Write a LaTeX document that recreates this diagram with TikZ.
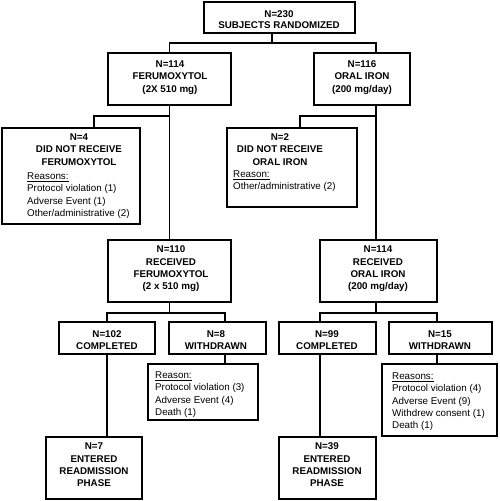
\documentclass[tikz,border=0pt]{standalone}
\usepackage{fontspec}
\setmainfont{Liberation Sans}
\tikzset{
  bx/.style={draw, line width=1.2pt, inner sep=0pt, outer sep=0pt, rectangle},
  hd/.style={font=\fontsize{9.8}{12.3}\selectfont\bfseries, align=center, inner sep=0pt},
  rs/.style={font=\fontsize{9.8}{12.3}\selectfont, align=left, inner sep=0pt, anchor=north west},
  ln/.style={line width=1.2pt},
}
\newcommand{\mkbox}[5]{\node[bx, minimum width={(#4)-(#2)}, minimum height={(#5)-(#3)}] (#1) at ({((#2)+(#4))/2},{((#3)+(#5))/2}) {};}
\begin{document}
\begin{tikzpicture}[x=1pt,y=-1pt]
\useasboundingbox (0,0) rectangle (500,501);
% boxes
\mkbox{top}{204}{2}{355}{33}
\mkbox{fer}{108}{53}{231}{105}
\mkbox{oral}{314}{53}{410}{105}
\mkbox{dnrf}{2}{128}{140}{224}
\mkbox{dnro}{227}{128}{357}{207}
\mkbox{recf}{108}{240}{231}{302}
\mkbox{reco}{320}{240}{437}{302}
\mkbox{compL}{59}{322}{155}{354}
\mkbox{wdL}{169}{322}{266}{354}
\mkbox{compR}{279}{322}{376}{354}
\mkbox{wdR}{389}{322}{492}{354}
\mkbox{rsL}{148}{364}{258}{420}
\mkbox{rsR}{382}{364}{497}{436}
\mkbox{readL}{46}{437}{142}{499}
\mkbox{readR}{279}{437}{376}{499}
% texts
\node[hd, font=\fontsize{9.8}{11}\selectfont\bfseries] (ttop) at (279,19.5) {N=230\\SUBJECTS RANDOMIZED};
\node[hd] (tfer) at (170,77.5) {N=114\\FERUMOXYTOL\\(2X 510 mg)};
\node[hd] (toral) at (362,77.5) {N=116\\ORAL IRON\\(200 mg/day)};
\node[hd] (tdnrf) at (79,149.5) {N=4\\DID NOT RECEIVE\\FERUMOXYTOL};
\node[rs] (rdnrf) at (27,172.5) {\underline{Reasons:}\\Protocol violation (1)\\Adverse Event (1)\\Other/administrative (2)};
\node[hd] (tdnro) at (280,149.5) {N=2\\DID NOT RECEIVE\\ORAL IRON};
\node[rs] (rdnro) at (233,170.5) {\underline{Reason:}\\Other/administrative (2)};
\node[hd] (trecf) at (171,269) {N=110\\RECEIVED\\FERUMOXYTOL\\(2 x 510 mg)};
\node[hd] (treco) at (378,269) {N=114\\RECEIVED\\ORAL IRON\\(200 mg/day)};
\node[hd] (tcompL) at (107,340) {N=102\\COMPLETED};
\node[hd] (twdL) at (216,340) {N=8\\WITHDRAWN};
\node[hd] (tcompR) at (327,340) {N=99\\COMPLETED};
\node[hd] (twdR) at (440,340) {N=15\\WITHDRAWN};
\node[rs] (trsL) at (155,371.5) {\underline{Reason:}\\Protocol violation (3)\\Adverse Event (4)\\Death (1)};
\node[rs] (trsR) at (392,372.5) {\underline{Reasons:}\\Protocol violation (4)\\Adverse Event (9)\\Withdrew consent (1)\\Death (1)};
\node[hd] (treadL) at (94,465) {N=7\\ENTERED\\READMISSION\\PHASE};
\node[hd] (treadR) at (327,465) {N=39\\ENTERED\\READMISSION\\PHASE};
% connectors
\coordinate (a1) at (272,43);
\coordinate (a2) at (376,43);
\draw[ln] (a1 |- top.south) -- (a1);
\draw[ln] (fer.north) |- (a2) -- (a2 |- oral.north);
\coordinate (b1) at (94,116);
\coordinate (b2) at (300,116);
\draw[ln] (fer.south) -- (recf.north);
\draw[ln] (fer.south |- b1) -| (b1 |- dnrf.north);
\draw[ln] (a2 |- oral.south) -- (a2 |- reco.north);
\draw[ln] (a2 |- b2) -| (b2 |- dnro.north);
\coordinate (d1) at (107,313);
\coordinate (d2) at (225,313);
\draw[ln] (recf.south) -- (recf.south |- d1);
\draw[ln] (d1 |- compL.north) |- (d2) -- (d2 |- wdL.north);
\draw[ln] (d2 |- wdL.south) -- (d2 |- rsL.north);
\draw[ln] (d1 |- compL.south) -- (d1 |- readL.north);
\coordinate (e1) at (320,313);
\coordinate (e2) at (437,313);
\draw[ln] (a2 |- reco.south) -- (a2 |- e1);
\draw[ln] (e1 |- compR.north) |- (e2) -- (e2 |- wdR.north);
\draw[ln] (e2 |- wdR.south) -- (e2 |- rsR.north);
\draw[ln] (e1 |- compR.south) -- (e1 |- readR.north);
\end{tikzpicture}
\end{document}
